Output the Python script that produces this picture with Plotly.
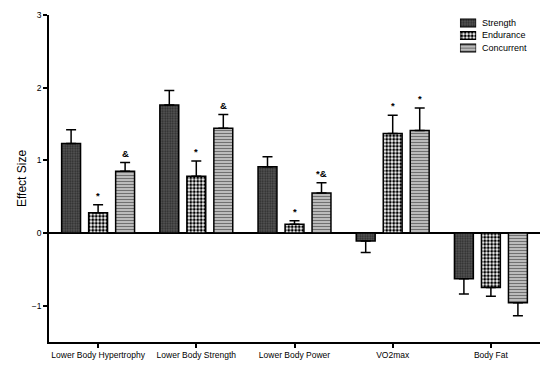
import plotly.graph_objects as go

categories = ["Lower Body Hypertrophy", "Lower Body Strength", "Lower Body Power", "VO2max", "Body Fat"]
series_names = ["Strength", "Endurance", "Concurrent"]
strength = [1.23, 1.76, 0.91, -0.11, -0.63]
strength_err = [0.19, 0.20, 0.14, 0.16, 0.21]
endurance = [0.28, 0.78, 0.12, 1.37, -0.75]
endurance_err = [0.11, 0.21, 0.05, 0.25, 0.12]
concurrent = [0.85, 1.44, 0.55, 1.41, -0.96]
concurrent_err = [0.12, 0.19, 0.14, 0.31, 0.18]
strength_marks = ["", "", "", "", ""]
endurance_marks = ["*", "*", "*", "*", ""]
concurrent_marks = ["&", "&", "*&", "*", ""]
y_ticks = [-1, 0, 1, 2, 3]
legend_swatch = [1, 1, 1]

values = [strength, endurance, concurrent]
errors = [strength_err, endurance_err, concurrent_err]
marks = [strength_marks, endurance_marks, concurrent_marks]

FONT = "Liberation Sans, Arial, sans-serif"
patterns = [
    dict(shape=".", bgcolor="#585858", fgcolor="#2a2a2a", size=2.5, solidity=0.45, fillmode="replace"),
    dict(shape=".", bgcolor="#ffffff", fgcolor="#000000", size=3.5, solidity=0.55, fillmode="replace"),
    dict(shape="-", bgcolor="#d4d4d4", fgcolor="#707070", size=3, solidity=0.5, fillmode="replace"),
]

BARGAP = 0.175
fig = go.Figure()
for name, vals, errs, pat in zip(series_names, values, errors, patterns):
    plus = [e if v >= 0 else 0 for v, e in zip(vals, errs)]
    minus = [0 if v >= 0 else e for v, e in zip(vals, errs)]
    fig.add_trace(go.Bar(
        name=name, x=categories, y=vals, showlegend=False,
        marker=dict(color=pat["bgcolor"], pattern=pat, line=dict(color="black", width=1.5)),
        error_y=dict(type="data", symmetric=False, array=plus, arrayminus=minus,
                     color="black", thickness=1.5, width=5),
    ))

# legend drawn as a tiny inset of horizontal swatch bars
for name, pat, sw in zip(series_names, patterns, legend_swatch):
    fig.add_trace(go.Bar(
        name=name, y=[name], x=[sw], orientation="h", width=0.62,
        xaxis="x2", yaxis="y2", showlegend=False, hoverinfo="skip",
        marker=dict(color=pat["bgcolor"], pattern=pat, line=dict(color="black", width=1.2)),
    ))

slot = (1 - BARGAP) / len(series_names)
annotations = []
for j, (vals, errs, mk) in enumerate(zip(values, errors, marks)):
    for i, (v, e, m) in enumerate(zip(vals, errs, mk)):
        if not m:
            continue
        annotations.append(dict(
            x=i + (j - 1) * slot, y=v + e, xref="x", yref="y", text="<b>" + m + "</b>",
            showarrow=False, yanchor="bottom", yshift=2,
            font=dict(family=FONT, size=9.5, color="black"),
        ))
for name in series_names:
    annotations.append(dict(
        x=0.878, y=name, xref="paper", yref="y2", text=name, showarrow=False,
        xanchor="left", yanchor="middle", font=dict(family=FONT, size=9, color="black"),
    ))

fig.update_layout(
    width=557, height=367,
    margin=dict(l=49, r=17, t=15, b=25),
    paper_bgcolor="white", plot_bgcolor="white",
    barmode="group", bargap=BARGAP, bargroupgap=0.3,
    font=dict(family=FONT, color="black"),
    annotations=annotations,
    showlegend=False,
    xaxis=dict(
        type="category", range=[-0.5, 4.5], automargin=False,
        showline=True, linecolor="black", linewidth=1.5,
        ticks="outside", ticklen=4, tickwidth=1.5, tickcolor="black", tickangle=0,
        tickfont=dict(family=FONT, size=8.5, color="black"), showgrid=False, zeroline=False,
    ),
    yaxis=dict(
        range=[-1.5, 3], tickvals=y_ticks, automargin=False,
        showline=True, linecolor="black", linewidth=1.5,
        ticks="outside", ticklen=4, tickwidth=1.5, tickcolor="black",
        tickfont=dict(family=FONT, size=8.5, color="black"), showgrid=False,
        zeroline=True, zerolinecolor="black", zerolinewidth=2,
        title=dict(text="Effect Size", font=dict(family=FONT, size=12, color="black"), standoff=3),
    ),
    xaxis2=dict(domain=[0.837, 0.870], range=[0, 1], anchor="y2", visible=False, fixedrange=True),
    yaxis2=dict(domain=[0.880, 0.995], range=[2.5, -0.5], type="category",
                categoryorder="array", categoryarray=series_names,
                anchor="x2", visible=False, fixedrange=True),
)

fig.write_html(
    "out.html",
    config={"displayModeBar": False},
    post_script="document.body.style.margin='0';document.body.style.overflow='hidden';",
)
